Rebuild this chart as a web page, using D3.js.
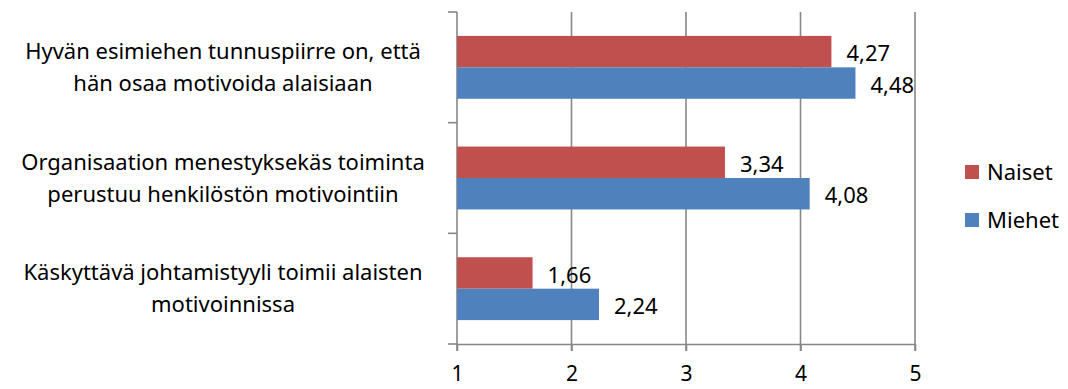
<!DOCTYPE html>
<html>
<head>
<meta charset="utf-8">
<script src="https://cdn.jsdelivr.net/npm/d3@7"></script>
<style>
  html, body { margin: 0; padding: 0; background: #fff; }
  svg { display: block; font-family: "Noto Sans", "Open Sans", sans-serif; }
</style>
</head>
<body>
<svg id="chart" width="1068" height="389"></svg>
<script>
// Statements, drawn top to bottom; each label is split into its two lines
const categories = [
  ["Hyvän esimiehen tunnuspiirre on, että", "hän osaa motivoida alaisiaan"],
  ["Organisaation menestyksekäs toiminta", "perustuu henkilöstön motivointiin"],
  ["Käskyttävä johtamistyyli toimii alaisten", "motivoinnissa"]
];
const seriesNames = ["Naiset", "Miehet"];
const naiset = [4.27, 3.34, 1.66];
const miehet = [4.48, 4.08, 2.24];
const xTicks = [1, 2, 3, 4, 5];
const colors = ["#C0504D", "#4F81BD"];

const svg = d3.select("#chart");
const plot = { left: 457, right: 915, top: 12, bottom: 344 };

const x = d3.scaleLinear().domain([1, 5]).range([plot.left, plot.right]);
const y = d3.scaleBand().domain(d3.range(categories.length)).range([plot.top, plot.bottom]);
const ySeries = d3.scaleBand().domain(seriesNames).range([0, y.bandwidth()]).paddingOuter(0.76);

const fmt = v => d3.format(".2f")(v).replace(".", ",");
const gridColor = "#878787";
const fontSize = 22;

// Vertical gridlines with small tick extensions below the plot
svg.append("g").selectAll("line").data(xTicks.slice(1)).join("line")
  .attr("x1", d => x(d)).attr("x2", d => x(d))
  .attr("y1", plot.top).attr("y2", plot.bottom + 7)
  .attr("stroke", gridColor).attr("stroke-width", 1.6);

// Bottom axis
const xAxis = svg.append("g").attr("transform", `translate(0,${plot.bottom})`)
  .call(d3.axisBottom(x).tickValues(xTicks).tickSize(7).tickSizeOuter(0).tickFormat(d3.format("d")));
xAxis.select(".domain").attr("stroke", gridColor).attr("stroke-width", 1.6);
xAxis.selectAll(".tick line").attr("stroke", gridColor).attr("stroke-width", 1.6);
xAxis.selectAll(".tick text").attr("font-size", 21).attr("fill", "#000")
  .attr("font-family", "'Noto Sans', sans-serif").attr("y", 30).attr("dy", "0.35em");

// Left axis: category boundary ticks
const boundaries = d3.range(categories.length + 1).map(i => plot.top + i * y.step());
svg.append("line")
  .attr("x1", plot.left).attr("x2", plot.left)
  .attr("y1", plot.top).attr("y2", plot.bottom + 7)
  .attr("stroke", gridColor).attr("stroke-width", 1.6);
svg.append("g").selectAll("line").data(boundaries).join("line")
  .attr("x1", plot.left - 9).attr("x2", plot.left)
  .attr("y1", d => d).attr("y2", d => d)
  .attr("stroke", gridColor).attr("stroke-width", 1.6);

// Bars
const rows = categories.map((c, i) => ({ i, values: [naiset[i], miehet[i]] }));
const groups = svg.append("g").selectAll("g").data(rows).join("g")
  .attr("transform", d => `translate(0,${y(d.i)})`);

groups.selectAll("rect").data(d => d.values.map((v, k) => ({ v, k }))).join("rect")
  .attr("x", x(1))
  .attr("y", d => ySeries(seriesNames[d.k]))
  .attr("width", d => x(d.v) - x(1))
  .attr("height", ySeries.bandwidth())
  .attr("fill", d => colors[d.k]);

// Value labels
groups.selectAll("text").data(d => d.values.map((v, k) => ({ v, k }))).join("text")
  .attr("x", d => x(d.v) + 15)
  .attr("y", d => ySeries(seriesNames[d.k]) + ySeries.bandwidth() / 2 + 2)
  .attr("dy", "0.35em")
  .attr("font-size", fontSize)
  .attr("fill", "#000")
  .text(d => fmt(d.v));

// Category labels
const catG = svg.append("g").selectAll("text").data(categories).join("text")
  .attr("text-anchor", "middle")
  .attr("font-size", fontSize)
  .attr("fill", "#000")
  .attr("transform", (d, i) => `translate(223,${y(i) + y.bandwidth() / 2})`);
catG.selectAll("tspan").data(d => d).join("tspan")
  .attr("x", 0)
  .attr("y", (d, k) => (k - 0.5) * 32)
  .attr("dy", "0.35em")
  .text(d => d);

// Legend
const legend = svg.append("g").selectAll("g").data(seriesNames).join("g")
  .attr("transform", (d, k) => `translate(965,${172 + k * 48})`);
legend.append("rect")
  .attr("x", 0).attr("y", -7).attr("width", 14).attr("height", 14)
  .attr("fill", (d, k) => colors[k]);
legend.append("text")
  .attr("x", 22).attr("y", 0).attr("dy", "0.35em")
  .attr("font-size", fontSize).attr("fill", "#000")
  .text(d => d);
</script>
</body>
</html>
